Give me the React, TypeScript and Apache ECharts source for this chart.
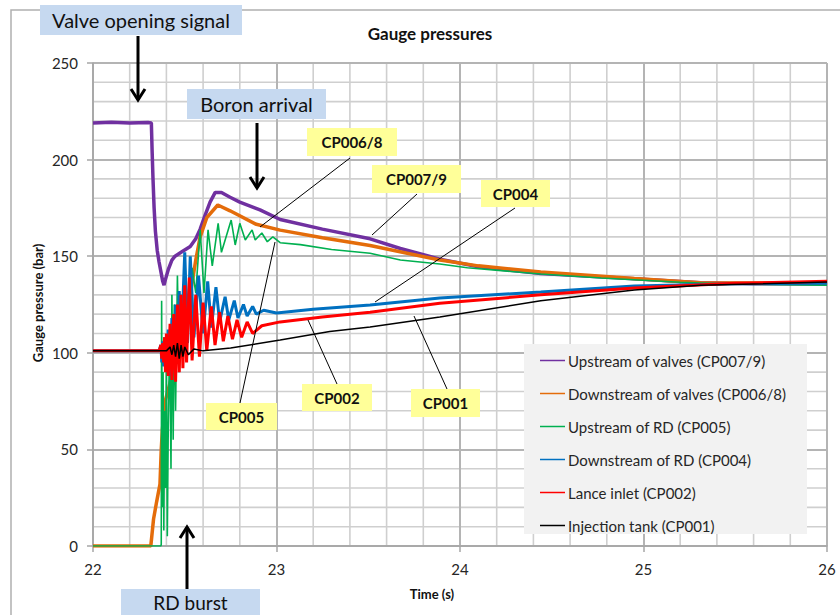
import React, { useEffect, useRef } from "react";
import * as echarts from "echarts";

const seriesNames = [
  "Upstream of valves (CP007/9)",
  "Downstream of valves (CP006/8)",
  "Upstream of RD (CP005)",
  "Downstream of RD (CP004)",
  "Lance inlet (CP002)",
  "Injection tank (CP001)",
];
const seriesColors = ["#7030a0", "#e46c0a", "#00b050", "#0070c0", "#ff0000", "#000000"];
const seriesWidths = [3.5, 3.5, 1.6, 3, 3, 1.5];

const xTicks = [22, 23, 24, 25, 26];
const yTicks = [0, 50, 100, 150, 200, 250];
const xMinorStep = 0.2;
const yMinorStep = 10;

// [time (s), gauge pressure (bar)]
const cp007: number[][] = [
  [22.0, 219], [22.1, 219.3], [22.2, 219], [22.3, 219.2], [22.318, 219], [22.322, 205], [22.327, 190],
  [22.333, 175], [22.34, 163], [22.35, 153], [22.36, 147], [22.37, 142], [22.38, 137], [22.387, 135],
  [22.395, 138], [22.41, 143], [22.43, 148], [22.447, 150], [22.48, 152], [22.53, 155], [22.56, 159],
  [22.584, 164], [22.61, 171], [22.638, 178], [22.666, 183], [22.7, 183], [22.747, 180.5], [22.8, 178],
  [22.91, 174], [23.02, 169], [23.25, 164], [23.51, 159], [23.675, 154], [23.89, 148.5], [24.1, 144.5],
  [24.44, 141], [24.95, 138.3], [25.31, 136.2], [25.6, 135.8], [26, 135.6],
];
const cp006: number[][] = [
  [22.0, 0], [22.315, 0], [22.33, 14], [22.347, 23], [22.365, 32], [22.372, 50], [22.378, 60],
  [22.393, 75], [22.43, 88], [22.49, 108], [22.53, 130], [22.56, 148], [22.584, 160], [22.62, 170],
  [22.68, 176.5], [22.747, 173.5], [22.89, 166.5], [23.02, 163.5], [23.25, 159.5], [23.51, 155.5],
  [23.89, 148], [24.1, 145], [24.44, 141.8], [24.95, 138.5], [25.31, 136.3], [26, 136],
];
const cp005: number[][] = [
  [22.0, 0], [22.37, 0], [22.372, 1], [22.374, 127], [22.378, 20], [22.382, 90], [22.386, 8],
  [22.39, 70], [22.395, 30], [22.4, 100], [22.405, 5], [22.41, 60], [22.418, 110], [22.425, 40],
  [22.43, 130], [22.437, 55], [22.443, 125], [22.45, 70], [22.46, 140], [22.47, 90], [22.48, 130],
  [22.49, 100], [22.5, 150], [22.515, 115], [22.54, 144], [22.56, 131], [22.584, 163.6], [22.605, 131],
  [22.627, 163.6], [22.65, 145], [22.682, 167], [22.7, 152], [22.753, 168.7], [22.775, 155.8],
  [22.8, 167], [22.83, 158.4], [22.867, 163.6], [22.884, 158.4], [22.92, 162], [22.95, 157.5],
  [22.98, 160], [23.02, 157], [23.13, 156], [23.3, 153.5], [23.51, 151.5], [23.675, 148], [23.89, 146],
  [24.04, 144], [24.44, 140.8], [24.77, 138.7], [25.2, 136.5], [25.5, 135.5], [26, 135],
];
const cp004: number[][] = [
  [22.0, 101], [22.36, 101], [22.37, 104], [22.375, 95], [22.38, 106], [22.385, 93], [22.39, 108],
  [22.4, 92], [22.41, 112], [22.42, 88], [22.43, 118], [22.44, 92], [22.45, 125], [22.46, 97],
  [22.47, 132], [22.48, 102], [22.5, 152], [22.515, 105], [22.53, 150], [22.55, 108], [22.575, 140],
  [22.6, 110], [22.625, 137], [22.645, 113], [22.67, 134], [22.69, 116], [22.72, 129], [22.74, 117],
  [22.77, 127], [22.79, 118], [22.82, 125], [22.84, 119], [22.87, 124], [22.89, 120], [22.93, 122],
  [23.0, 120.6], [23.2, 122.5], [23.51, 124.7], [23.89, 128.4], [24.44, 131.5], [24.95, 134.6],
  [25.5, 135.8], [26, 136],
];
const cp002: number[][] = [
  [22.0, 101], [22.36, 101], [22.37, 104], [22.375, 97], [22.38, 105], [22.385, 95], [22.39, 108],
  [22.395, 90], [22.4, 110], [22.41, 88], [22.42, 115], [22.43, 86], [22.44, 120], [22.45, 85],
  [22.46, 125], [22.47, 90], [22.48, 130], [22.49, 92], [22.5, 135], [22.51, 95], [22.525, 139],
  [22.54, 96], [22.56, 130], [22.58, 98], [22.6, 126], [22.62, 101], [22.645, 124], [22.665, 104],
  [22.69, 121], [22.71, 106], [22.735, 119], [22.76, 107], [22.785, 117], [22.81, 108], [22.84, 116],
  [22.87, 110], [22.92, 114], [23.02, 116], [23.25, 118.5], [23.51, 121], [23.89, 125.6], [24.44, 130],
  [24.95, 133.5], [25.5, 136], [26, 137],
];
const cp001: number[][] = [
  [22.0, 101], [22.4, 101], [22.42, 103], [22.43, 99], [22.44, 104], [22.45, 98], [22.46, 105],
  [22.47, 97], [22.48, 104], [22.49, 98], [22.5, 103], [22.52, 99], [22.55, 102], [22.6, 101],
  [22.75, 102.5], [23.02, 106.6], [23.29, 111], [23.51, 113.4], [23.89, 118.5], [24.44, 127],
  [24.95, 132.5], [25.31, 135], [26, 136.6],
];
const seriesData = [cp007, cp006, cp005, cp004, cp002, cp001];

const FONT = "Lato, 'Open Sans', sans-serif";

export default function App() {
  const ref = useRef<HTMLDivElement>(null);
  useEffect(() => {
    const chart = echarts.init(ref.current!, null, { renderer: "svg" });

    const box = (x: number, y: number, w: number, h: number, fill: string, text: string, font: string, ty?: number) => [
      { type: "rect", z: 20, shape: { x, y, width: w, height: h }, style: { fill } },
      {
        type: "text", z: 21, x: x + w / 2, y: ty !== undefined ? ty : y + h / 2,
        style: { text, font, fill: "#111", textAlign: "center", textVerticalAlign: "middle", align: "center", verticalAlign: "middle" },
      },
    ];
    const leader = (x1: number, y1: number, x2: number, y2: number) => ({
      type: "line", z: 19, shape: { x1, y1, x2, y2 }, style: { stroke: "#000", lineWidth: 1 },
    });
    const arrow = (x: number, y1: number, y2: number) => {
      const dir = y2 > y1 ? 1 : -1;
      return [
        { type: "line", z: 19, shape: { x1: x, y1, x2: x, y2 }, style: { stroke: "#000", lineWidth: 3 } },
        {
          type: "polyline", z: 19,
          shape: { points: [[x - 7, y2 - dir * 11], [x, y2], [x + 7, y2 - dir * 11]] },
          style: { stroke: "#000", lineWidth: 3, fill: null },
        },
      ];
    };
    const blueFont = `20px ${FONT}`;
    const yellowFont = `bold 15px ${FONT}`;

    const xMin = xTicks[0];
    const xMax = xTicks[xTicks.length - 1];
    const yMin = yTicks[0];
    const yMax = yTicks[yTicks.length - 1];

    chart.setOption({
      animation: false,
      backgroundColor: "#ffffff",
      grid: { left: 93, right: 13, top: 63, bottom: 69 },
      legend: {
        orient: "vertical",
        left: 535,
        top: 348,
        itemWidth: 25,
        itemHeight: 14,
        itemGap: 18,
        icon: "path://M0,0 L25,0 L25,1.5 L0,1.5 Z",
        textStyle: { fontFamily: FONT, fontSize: 15, color: "#262626", padding: [0, 0, 0, -2] },
        data: seriesNames,
      },
      xAxis: {
        type: "value",
        z: 0.5,
        min: xMin,
        max: xMax,
        interval: 1,
        axisLine: { show: true, lineStyle: { color: "#a6a6a6", width: 1.5 } },
        axisTick: { show: true, length: 6, lineStyle: { color: "#a6a6a6", width: 1.5 } },
        axisLabel: { fontFamily: FONT, fontSize: 15, color: "#262626", margin: 15 },
        splitLine: { show: true, lineStyle: { color: "#b4b4b4", width: 2 } },
      },
      yAxis: {
        type: "value",
        z: 0.5,
        min: yMin,
        max: yMax,
        interval: 50,
        axisLine: { show: true, lineStyle: { color: "#a6a6a6", width: 1.5 } },
        axisTick: { show: true, length: 6, lineStyle: { color: "#a6a6a6", width: 1.5 } },
        axisLabel: { fontFamily: FONT, fontSize: 15, color: "#262626", margin: 15 },
        splitLine: { show: true, lineStyle: { color: "#b4b4b4", width: 2 } },
      },
      series: seriesNames.map((name, i) => ({
        name,
        type: "line",
        data: seriesData[i],
        symbol: "none",
        showSymbol: false,
        color: seriesColors[i],
        lineStyle: { color: seriesColors[i], width: seriesWidths[i] },
        z: 2 + i * 0.01,
      })),
    });

    // Minor grid lines placed through the axes' own scales
    const minorLines: any[] = [];
    const top = chart.convertToPixel({ yAxisIndex: 0 }, yMax) as number;
    const bottom = chart.convertToPixel({ yAxisIndex: 0 }, yMin) as number;
    const left = chart.convertToPixel({ xAxisIndex: 0 }, xMin) as number;
    const right = chart.convertToPixel({ xAxisIndex: 0 }, xMax) as number;
    const minorStyle = { stroke: "#cfcfcf", lineWidth: 1.6 };
    const nx = Math.round((xMax - xMin) / xMinorStep);
    for (let k = 1; k < nx; k++) {
      if (k % 5 === 0) continue;
      const px = chart.convertToPixel({ xAxisIndex: 0 }, xMin + k * xMinorStep) as number;
      minorLines.push({ type: "line", z: 0, silent: true, shape: { x1: px, y1: top, x2: px, y2: bottom }, style: minorStyle });
    }
    const ny = Math.round((yMax - yMin) / yMinorStep);
    for (let k = 1; k < ny; k++) {
      if (k % 5 === 0) continue;
      const py = chart.convertToPixel({ yAxisIndex: 0 }, yMin + k * yMinorStep) as number;
      minorLines.push({ type: "line", z: 0, silent: true, shape: { x1: left, y1: py, x2: right, y2: py }, style: minorStyle });
    }

    chart.setOption({
      graphic: [
        ...minorLines,
        { type: "rect", z: 0, shape: { x: 11, y: 10, width: 840, height: 640 }, style: { fill: null, stroke: "#b0b0b0", lineWidth: 1.5 } },
        { type: "rect", z: 1, shape: { x: 524, y: 344, width: 283, height: 190 }, style: { fill: "#f2f2f2" } },
        {
          type: "text", z: 5, x: 430, y: 33,
          style: { text: "Gauge pressures", font: `bold 17px ${FONT}`, fill: "#111", textAlign: "center", textVerticalAlign: "middle", align: "center", verticalAlign: "middle" },
        },
        {
          type: "text", z: 5, x: 432, y: 594,
          style: { text: "Time (s)", font: `bold 13px ${FONT}`, fill: "#111", textAlign: "center", textVerticalAlign: "middle", align: "center", verticalAlign: "middle" },
        },
        {
          type: "text", z: 5, x: 38, y: 303, rotation: Math.PI / 2,
          style: { text: "Gauge pressure (bar)", font: `bold 13px ${FONT}`, fill: "#111", textAlign: "center", textVerticalAlign: "middle", align: "center", verticalAlign: "middle" },
        },
        ...box(40, 5, 202, 30, "#c6d9f0", "Valve opening signal", blueFont),
        ...box(187, 89, 139, 30, "#c6d9f0", "Boron arrival", blueFont),
        ...box(121, 589, 139, 32, "#c6d9f0", "RD burst", `19px ${FONT}`, 602),
        ...arrow(138, 36, 100),
        ...arrow(257, 123, 188),
        ...arrow(187, 589, 527),
        leader(350, 158, 260, 227),
        leader(417, 194, 372, 235),
        leader(515, 208, 375, 302),
        leader(240, 403, 275, 242),
        leader(337, 384, 308, 320),
        leader(447, 389, 414, 316),
        ...box(307, 128, 90, 28, "#ffff99", "CP006/8", yellowFont),
        ...box(372, 165, 89, 28, "#ffff99", "CP007/9", yellowFont),
        ...box(481, 180, 69, 27, "#ffff99", "CP004", yellowFont),
        ...box(206, 403, 71, 27, "#ffff99", "CP005", yellowFont),
        ...box(302, 384, 70, 27, "#ffff99", "CP002", yellowFont),
        ...box(411, 389, 69, 28, "#ffff99", "CP001", yellowFont),
      ],
    });
    return () => chart.dispose();
  }, []);
  return (
    <div
      ref={ref}
      style={{ position: "fixed", left: 0, top: 0, width: 840, height: 615, background: "#fff" }}
    />
  );
}
